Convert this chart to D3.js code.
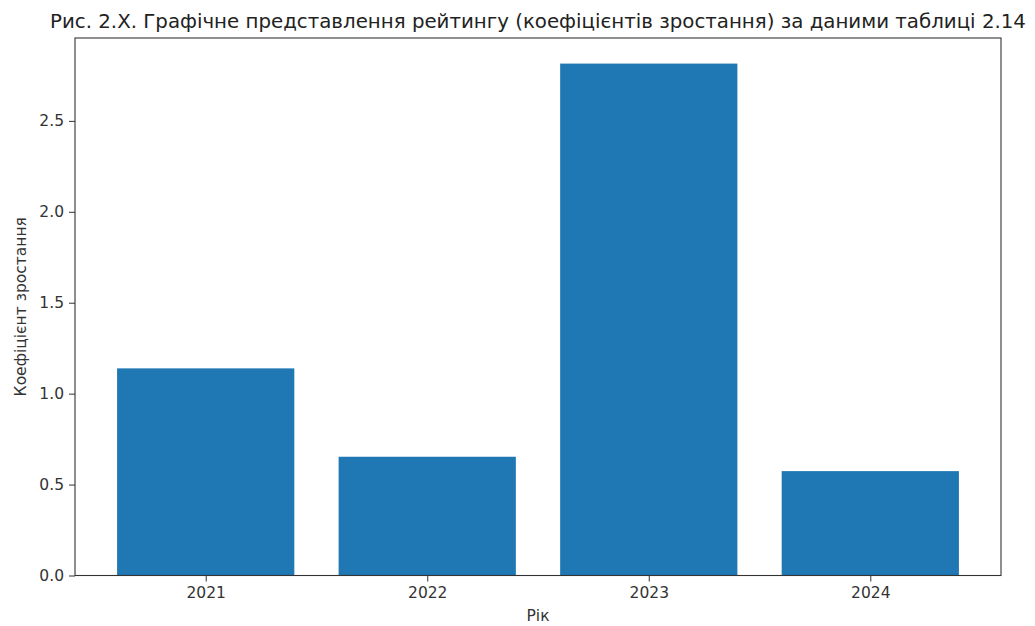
<!DOCTYPE html>
<html>
<head>
<meta charset="utf-8">
<script src="https://cdn.jsdelivr.net/npm/d3@7"></script>
<style>
  html, body { margin: 0; padding: 0; background: #fff; }
  svg { display: block; font-family: "DejaVu Sans", sans-serif; }
</style>
</head>
<body>
<svg id="chart" width="1035" height="626"></svg>
<script>
// Growth coefficients by year
const years = ["2021", "2022", "2023", "2024"];
const coefficients = [1.139, 0.653, 2.815, 0.574];
const yTicks = [0.0, 0.5, 1.0, 1.5, 2.0, 2.5];

const titleText = "Рис. 2.X. Графічне представлення рейтингу (коефіцієнтів зростання) за даними таблиці 2.14";
const xLabel = "Рік";
const yLabel = "Коефіцієнт зростання";

const W = 1035, H = 626;
const margin = { left: 75, right: 34, top: 38, bottom: 50.5 };
const plotW = W - margin.left - margin.right;
const plotH = H - margin.top - margin.bottom;

const svg = d3.select("#chart");
const g = svg.append("g").attr("transform", `translate(${margin.left},${margin.top})`);

// Index-based x scale with bars 0.8 wide and 5% side padding
const barW = 0.8;
const span = (years.length - 1) + barW;
const xMin = -barW / 2 - span * 0.05;
const xMax = (years.length - 1) + barW / 2 + span * 0.05;
const x = d3.scaleLinear().domain([xMin, xMax]).range([0, plotW]);

const yMax = d3.max(coefficients) * 1.05;
const y = d3.scaleLinear().domain([0, yMax]).range([plotH, 0]);

// Bars
g.selectAll("rect.bar")
  .data(coefficients)
  .join("rect")
  .attr("class", "bar")
  .attr("x", (d, i) => x(i - barW / 2))
  .attr("width", (d, i) => x(i + barW / 2) - x(i - barW / 2))
  .attr("y", d => y(d))
  .attr("height", d => y(0) - y(d))
  .attr("fill", "#1f77b4");

// Axes
const xAxis = d3.axisBottom(x)
  .tickValues(d3.range(years.length))
  .tickFormat(i => years[i])
  .tickSizeOuter(0)
  .tickSize(6)
  .tickPadding(5);
const yAxis = d3.axisLeft(y)
  .tickValues(yTicks)
  .tickFormat(d3.format(".1f"))
  .tickSizeOuter(0)
  .tickSize(6)
  .tickPadding(5);

const gx = g.append("g").attr("transform", `translate(0,${plotH})`).call(xAxis);
const gy = g.append("g").call(yAxis);
[gx, gy].forEach(a => {
  a.select(".domain").remove();
  a.selectAll("line").attr("stroke", "#333").attr("stroke-width", 1);
  a.selectAll("text").attr("fill", "#333").style("font-size", "15.5px").style("font-family", "DejaVu Sans, sans-serif");
});

// Frame around plot area
g.append("rect")
  .attr("x", 0).attr("y", 0)
  .attr("width", plotW).attr("height", plotH)
  .attr("fill", "none")
  .attr("stroke", "#333")
  .attr("stroke-width", 1.1);

// Title and axis labels
svg.append("text")
  .attr("x", margin.left + plotW / 2)
  .attr("y", 28)
  .attr("text-anchor", "middle")
  .attr("fill", "#222")
  .style("font-size", "19.8px")
  .text(titleText);

svg.append("text")
  .attr("x", margin.left + plotW / 2)
  .attr("y", 621)
  .attr("text-anchor", "middle")
  .attr("fill", "#333")
  .style("font-size", "15.5px")
  .text(xLabel);

svg.append("text")
  .attr("transform", `translate(26,${margin.top + plotH / 2}) rotate(-90)`)
  .attr("text-anchor", "middle")
  .attr("fill", "#333")
  .style("font-size", "15.5px")
  .text(yLabel);
</script>
</body>
</html>
